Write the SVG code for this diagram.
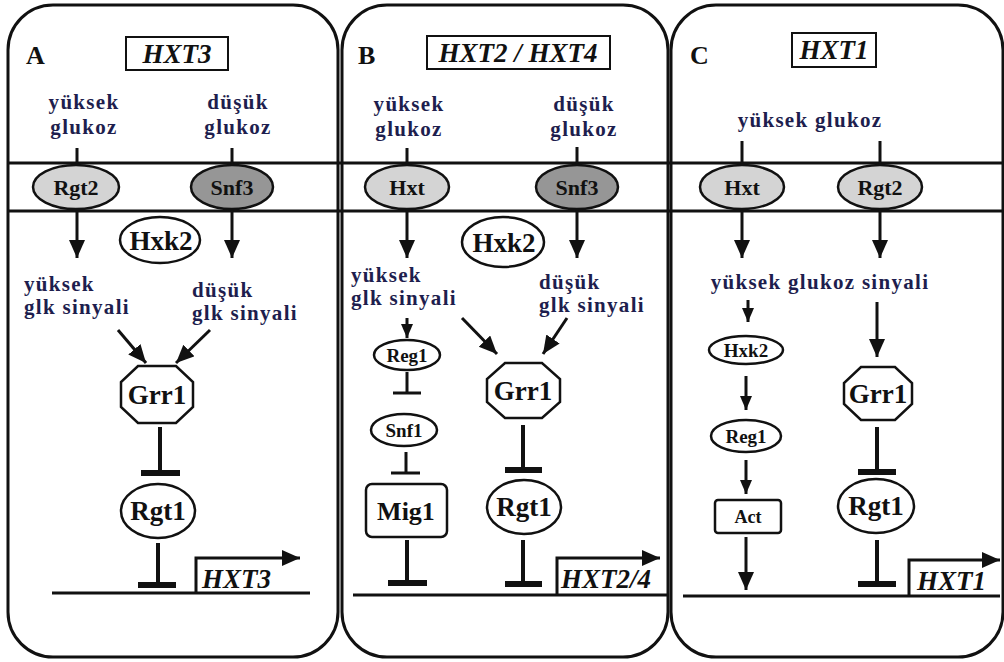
<svg xmlns="http://www.w3.org/2000/svg" width="1004" height="662" viewBox="0 0 1004 662">
<style>
.panel{fill:none;stroke:#111;stroke-width:3}
.mem{stroke:#111;stroke-width:3}
.ln{stroke:#111;stroke-width:3;fill:none}
.thick{stroke:#111;stroke-width:4;fill:none}
.bar{stroke:#111;stroke-width:6}
.node{fill:#fff;stroke:#111;stroke-width:2.5}
.rec1{fill:#d4d4d4;stroke:#111;stroke-width:2.5}
.rec2{fill:#969696;stroke:#111;stroke-width:2.5}
text{font-family:"Liberation Serif","Times New Roman","DejaVu Serif",serif;font-weight:bold}
.t{fill:#111;text-anchor:middle}
.lab{fill:#1e1e4e;font-size:21px;letter-spacing:1.3px}
.gene{font-style:italic;fill:#111;font-size:27px}
.let{fill:#111;font-size:26px}
</style>
<defs>
<marker id="ah" markerUnits="userSpaceOnUse" markerWidth="20" markerHeight="20" refX="18" refY="8" orient="auto">
<path d="M0,0 L18,8 L0,16 Z" fill="#111"/>
</marker>
<marker id="ahs" markerUnits="userSpaceOnUse" markerWidth="16" markerHeight="14" refX="14" refY="6" orient="auto">
<path d="M0,0 L14,6 L0,12 Z" fill="#111"/>
</marker>
</defs>
<rect width="1004" height="662" fill="#fff"/>

<g id="panels">
<rect class="panel" x="8" y="5" width="330" height="652" rx="45"/>
<rect class="panel" x="342" y="5" width="326" height="652" rx="45"/>
<rect class="panel" x="671" y="5" width="332" height="652" rx="45"/>
<line class="mem" x1="9" y1="163" x2="1003" y2="163"/>
<line class="mem" x1="9" y1="211" x2="1003" y2="211"/>
</g>

<g id="connectors">
<!-- A -->
<line class="ln" x1="77" y1="148" x2="77" y2="165"/>
<line class="ln" x1="232" y1="148" x2="232" y2="165"/>
<line class="ln" x1="77" y1="209" x2="77" y2="258" marker-end="url(#ah)"/>
<line class="ln" x1="232" y1="209" x2="232" y2="258" marker-end="url(#ah)"/>
<line class="ln" x1="118" y1="330" x2="146" y2="363" marker-end="url(#ah)"/>
<line class="ln" x1="210" y1="330" x2="176" y2="363" marker-end="url(#ah)"/>
<line class="thick" x1="160" y1="427" x2="160" y2="473"/>
<line class="bar" x1="141" y1="473" x2="180" y2="473"/>
<line class="thick" x1="158" y1="543" x2="158" y2="585"/>
<line class="bar" x1="138" y1="585" x2="176" y2="585"/>
<line class="ln" x1="52" y1="593" x2="310" y2="593"/>
<polyline class="ln" points="196,593 196,558 300,558" marker-end="url(#ah)"/>
<!-- B -->
<line class="ln" x1="407" y1="148" x2="407" y2="165"/>
<line class="ln" x1="577" y1="147" x2="577" y2="165"/>
<line class="ln" x1="407" y1="209" x2="407" y2="258" marker-end="url(#ah)"/>
<line class="ln" x1="577" y1="209" x2="577" y2="258" marker-end="url(#ah)"/>
<line class="ln" x1="407" y1="318" x2="407" y2="338" marker-end="url(#ahs)"/>
<line class="ln" x1="462" y1="318" x2="497" y2="354" marker-end="url(#ah)"/>
<line class="ln" x1="567" y1="318" x2="543" y2="354" marker-end="url(#ah)"/>
<line class="ln" x1="407" y1="372" x2="407" y2="392"/>
<line class="ln" x1="393" y1="393" x2="421" y2="393"/>
<line class="ln" x1="406" y1="452" x2="406" y2="472"/>
<line class="ln" x1="391" y1="473" x2="420" y2="473"/>
<line class="thick" x1="407" y1="540" x2="407" y2="583"/>
<line class="bar" x1="388" y1="583" x2="427" y2="583"/>
<line class="thick" x1="523" y1="425" x2="523" y2="470"/>
<line class="bar" x1="505" y1="470" x2="542" y2="470"/>
<line class="thick" x1="523" y1="540" x2="523" y2="584"/>
<line class="bar" x1="505" y1="584" x2="542" y2="584"/>
<line class="ln" x1="353" y1="595" x2="667" y2="595"/>
<polyline class="ln" points="557,595 557,558 660,558" marker-end="url(#ah)"/>
<!-- C -->
<line class="ln" x1="742" y1="141" x2="742" y2="165"/>
<line class="ln" x1="880" y1="141" x2="880" y2="165"/>
<line class="ln" x1="742" y1="209" x2="742" y2="258" marker-end="url(#ah)"/>
<line class="ln" x1="880" y1="209" x2="880" y2="258" marker-end="url(#ah)"/>
<line class="ln" x1="748" y1="300" x2="748" y2="322" marker-end="url(#ahs)"/>
<line class="ln" x1="746" y1="376" x2="746" y2="410" marker-end="url(#ahs)"/>
<line class="ln" x1="746" y1="460" x2="746" y2="494" marker-end="url(#ahs)"/>
<line class="ln" x1="746" y1="537" x2="746" y2="590" marker-end="url(#ah)"/>
<line class="ln" x1="877" y1="302" x2="877" y2="357" marker-end="url(#ah)"/>
<line class="thick" x1="877" y1="427" x2="877" y2="472"/>
<line class="bar" x1="858" y1="472" x2="896" y2="472"/>
<line class="thick" x1="877" y1="540" x2="877" y2="584"/>
<line class="bar" x1="858" y1="584" x2="896" y2="584"/>
<line class="ln" x1="683" y1="596" x2="1000" y2="596"/>
<polyline class="ln" points="909,596 909,560 1000,560" marker-end="url(#ah)"/>
</g>

<g id="panelA">
<text class="let" x="26" y="64">A</text>
<rect x="126" y="37" width="102" height="33" fill="#fff" stroke="#111" stroke-width="2"/>
<text class="gene" x="177" y="63" text-anchor="middle">HXT3</text>
<text class="lab" x="84" y="109" text-anchor="middle">yüksek</text>
<text class="lab" x="84" y="134" text-anchor="middle">glukoz</text>
<text class="lab" x="238" y="109" text-anchor="middle">düşük</text>
<text class="lab" x="238" y="134" text-anchor="middle">glukoz</text>
<g id="A_Rgt2"><ellipse class="rec1" cx="76" cy="187" rx="43" ry="22"/><text class="t" x="76" y="195" font-size="22">Rgt2</text></g>
<g id="A_Snf3"><ellipse class="rec2" cx="232" cy="187" rx="41" ry="22"/><text class="t" x="232" y="195" font-size="22">Snf3</text></g>
<g id="A_Hxk2"><ellipse class="node" cx="160" cy="240" rx="40" ry="23"/><text class="t" x="161" y="250" font-size="27">Hxk2</text></g>
<text class="lab" x="24" y="291">yüksek</text>
<text class="lab" x="24" y="314">glk sinyali</text>
<text class="lab" x="192" y="297">düşük</text>
<text class="lab" x="192" y="320">glk sinyali</text>
<g id="A_Grr1"><polygon class="node" points="138,366 176,366 193,382 193,407 176,423 138,423 121,407 121,382"/><text class="t" x="157" y="404" font-size="27">Grr1</text></g>
<g id="A_Rgt1"><ellipse class="node" cx="158" cy="511" rx="37" ry="27"/><text class="t" x="158" y="520" font-size="27">Rgt1</text></g>
<text class="gene" x="202" y="588">HXT3</text>
</g>

<g id="panelB">
<text class="let" x="358" y="64">B</text>
<rect x="427" y="36" width="183" height="33" fill="#fff" stroke="#111" stroke-width="2"/>
<text class="gene" x="518" y="62" text-anchor="middle" font-size="26">HXT2 / HXT4</text>
<text class="lab" x="409" y="111" text-anchor="middle">yüksek</text>
<text class="lab" x="409" y="136" text-anchor="middle">glukoz</text>
<text class="lab" x="584" y="111" text-anchor="middle">düşük</text>
<text class="lab" x="584" y="136" text-anchor="middle">glukoz</text>
<g id="B_Hxt"><ellipse class="rec1" cx="407" cy="187" rx="42" ry="22"/><text class="t" x="407" y="195" font-size="22">Hxt</text></g>
<g id="B_Snf3"><ellipse class="rec2" cx="577" cy="187" rx="41" ry="22"/><text class="t" x="577" y="195" font-size="22">Snf3</text></g>
<g id="B_Hxk2"><ellipse class="node" cx="503" cy="242" rx="41" ry="25"/><text class="t" x="504" y="252" font-size="27">Hxk2</text></g>
<text class="lab" x="351" y="282">yüksek</text>
<text class="lab" x="351" y="305">glk sinyali</text>
<text class="lab" x="539" y="289">düşük</text>
<text class="lab" x="539" y="312">glk sinyali</text>
<g id="B_Reg1"><ellipse class="node" cx="407" cy="355" rx="33" ry="15"/><text class="t" x="407" y="362" font-size="19">Reg1</text></g>
<g id="B_Snf1"><ellipse class="node" cx="404" cy="430" rx="33" ry="16"/><text class="t" x="404" y="437" font-size="19">Snf1</text></g>
<g id="B_Mig1"><rect class="node" x="366" y="484" width="81" height="53" rx="6"/><text class="t" x="406" y="520" font-size="26">Mig1</text></g>
<g id="B_Grr1"><polygon class="node" points="505,363 542,363 560,379 560,402 542,418 505,418 487,402 487,379"/><text class="t" x="523" y="400" font-size="27">Grr1</text></g>
<g id="B_Rgt1"><ellipse class="node" cx="524" cy="507" rx="37" ry="27"/><text class="t" x="524" y="516" font-size="27">Rgt1</text></g>
<text class="gene" x="561" y="588">HXT2/4</text>
</g>

<g id="panelC">
<text class="let" x="690" y="64">C</text>
<rect x="792" y="33" width="84" height="34" fill="#fff" stroke="#111" stroke-width="2"/>
<text class="gene" x="834" y="59" text-anchor="middle">HXT1</text>
<text class="lab" x="810" y="127" text-anchor="middle">yüksek glukoz</text>
<g id="C_Hxt"><ellipse class="rec1" cx="742" cy="187" rx="42" ry="22"/><text class="t" x="742" y="195" font-size="22">Hxt</text></g>
<g id="C_Rgt2"><ellipse class="rec1" cx="880" cy="187" rx="42" ry="22"/><text class="t" x="880" y="195" font-size="22">Rgt2</text></g>
<text class="lab" x="820" y="289" text-anchor="middle">yüksek glukoz sinyali</text>
<g id="C_Hxk2"><ellipse class="node" cx="746" cy="350" rx="37" ry="14"/><text class="t" x="746" y="357" font-size="19">Hxk2</text></g>
<g id="C_Reg1"><ellipse class="node" cx="746" cy="436" rx="35" ry="16"/><text class="t" x="746" y="443" font-size="19">Reg1</text></g>
<g id="C_Act"><rect class="node" x="715" y="500" width="66" height="33" rx="3"/><text class="t" x="748" y="523" font-size="18">Act</text></g>
<g id="C_Grr1"><polygon class="node" points="861,367 895,367 912,383 912,404 895,420 861,420 844,404 844,383"/><text class="t" x="878" y="403" font-size="27">Grr1</text></g>
<g id="C_Rgt1"><ellipse class="node" cx="876" cy="506" rx="38" ry="27"/><text class="t" x="876" y="515" font-size="27">Rgt1</text></g>
<text class="gene" x="917" y="590">HXT1</text>
</g>
</svg>
